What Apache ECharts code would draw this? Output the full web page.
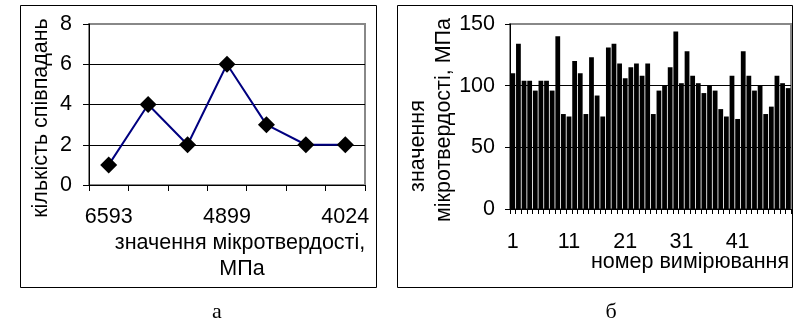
<!DOCTYPE html>
<html><head><meta charset="utf-8">
<script src="https://cdn.jsdelivr.net/npm/echarts@6/dist/echarts.min.js"></script>
<style>html,body{margin:0;padding:0;background:#fff}#c{width:798px;height:323px}</style>
</head><body><div id="c"></div>
<script>
// Panel a: distribution of microhardness values
const hardnessCats = ['6593', '6028', '5463', '4899', '4607', '4316', '4024'];
const hardnessCounts = [1, 4, 2, 6, 3, 2, 2];
// Panel б: measured microhardness per measurement number
const measureNums = ['1','2','3','4','5','6','7','8','9','10','11','12','13','14','15','16','17','18','19','20','21','22','23','24','25','26','27','28','29','30','31','32','33','34','35','36','37','38','39','40','41','42','43','44','45','46','47','48','49','50'];
const microValues = [110,134,104,104,96,104,104,96,140,77,
                     75,120,110,77,123,92,75,131,134,118,
                     106,115,118,108,118,77,96,100,115,144,
                     102,128,108,102,94,100,96,81,75,108,
                     73,128,108,96,100,77,83,108,102,98];

const FONT = '"Liberation Sans", Arial, sans-serif';
const SERIF = '"Liberation Serif", "Times New Roman", serif';
const FS = 21.5;
const lbl = {color:'#000', fontFamily: FONT, fontSize: FS};

const chart = echarts.init(document.getElementById('c'), null, {renderer:'canvas'});
chart.setOption({
  animation: false,
  backgroundColor: '#fff',
  grid: [
    {left: 89, top: 24, width: 276, height: 161, show: true, borderColor: '#888', borderWidth: 2, backgroundColor: 'transparent'},
    {left: 510, top: 24, width: 281, height: 185, show: true, borderColor: '#888', borderWidth: 2, backgroundColor: 'transparent'}
  ],
  xAxis: [
    {gridIndex: 0, type: 'category', data: hardnessCats, boundaryGap: true,
     axisLine: {lineStyle: {color: '#000', width: 1}},
     axisTick: {show: true, inside: false, length: 6, alignWithLabel: false, interval: 0, lineStyle: {color: '#000'}},
     axisLabel: Object.assign({interval: 2, margin: 21}, lbl),
     splitLine: {show: false}},
    {gridIndex: 1, type: 'category', data: measureNums, boundaryGap: true,
     axisLine: {lineStyle: {color: '#000', width: 1}},
     axisTick: {show: true, inside: false, length: 5, interval: 0, lineStyle: {color: '#000'}},
     axisLabel: Object.assign({interval: 9, margin: 22}, lbl),
     splitLine: {show: false}}
  ],
  yAxis: [
    {gridIndex: 0, type: 'value', min: 0, max: 8, interval: 2,
     axisLine: {show: true, lineStyle: {color: '#000', width: 1}},
     axisTick: {show: true, inside: false, length: 6, lineStyle: {color: '#000'}},
     axisLabel: Object.assign({margin: 17}, lbl),
     splitLine: {show: true, lineStyle: {color: ['#000', '#000', '#000', '#000', '#888'], width: 1}}},
    {gridIndex: 1, type: 'value', min: 0, max: 150, interval: 50,
     axisLine: {show: true, lineStyle: {color: '#000', width: 1}},
     axisTick: {show: true, inside: false, length: 5, lineStyle: {color: '#000'}},
     axisLabel: Object.assign({margin: 15}, lbl),
     splitLine: {show: true, lineStyle: {color: ['#000', '#000', '#000', '#888'], width: 1}}}
  ],
  series: [
    {type: 'line', xAxisIndex: 0, yAxisIndex: 0, data: hardnessCounts,
     symbol: 'diamond', symbolSize: 17, itemStyle: {color: '#000'},
     lineStyle: {color: '#000080', width: 2}, z: 5},
    {type: 'bar', xAxisIndex: 1, yAxisIndex: 1, data: microValues,
     itemStyle: {color: '#000'}, barCategoryGap: '15%', z: 3}
  ],
  graphic: [
    {type: 'rect', shape: {x: 20.5, y: 5.5, width: 356, height: 282}, style: {fill: 'none', stroke: '#000', lineWidth: 1}, z: 100},
    {type: 'rect', shape: {x: 397.5, y: 5.5, width: 395, height: 282}, style: {fill: 'none', stroke: '#000', lineWidth: 1}, z: 100},
    {type: 'text', x: 41, y: 118, rotation: Math.PI / 2, style: {text: 'кількість співпадань', font: FS + 'px ' + FONT, fill: '#000', align: 'center', verticalAlign: 'middle'}},
    {type: 'text', x: 240, y: 243, style: {text: 'значення мікротвердості,', font: FS + 'px ' + FONT, fill: '#000', align: 'center', verticalAlign: 'middle'}},
    {type: 'text', x: 242, y: 269, style: {text: 'МПа', font: FS + 'px ' + FONT, fill: '#000', align: 'center', verticalAlign: 'middle'}},
    {type: 'text', x: 418, y: 146, rotation: Math.PI / 2, style: {text: 'значення', font: FS + 'px ' + FONT, fill: '#000', align: 'center', verticalAlign: 'middle'}},
    {type: 'text', x: 444, y: 120, rotation: Math.PI / 2, style: {text: 'мікротвердості, МПа', font: FS + 'px ' + FONT, fill: '#000', align: 'center', verticalAlign: 'middle'}},
    {type: 'text', x: 690, y: 262, style: {text: 'номер вимірювання', font: FS + 'px ' + FONT, fill: '#000', align: 'center', verticalAlign: 'middle'}},
    {type: 'text', x: 217, y: 312, style: {text: 'а', font: '22px ' + SERIF, fill: '#000', align: 'center', verticalAlign: 'middle'}},
    {type: 'text', x: 611, y: 312, style: {text: 'б', font: '22px ' + SERIF, fill: '#000', align: 'center', verticalAlign: 'middle'}}
  ]
});
</script></body></html>
